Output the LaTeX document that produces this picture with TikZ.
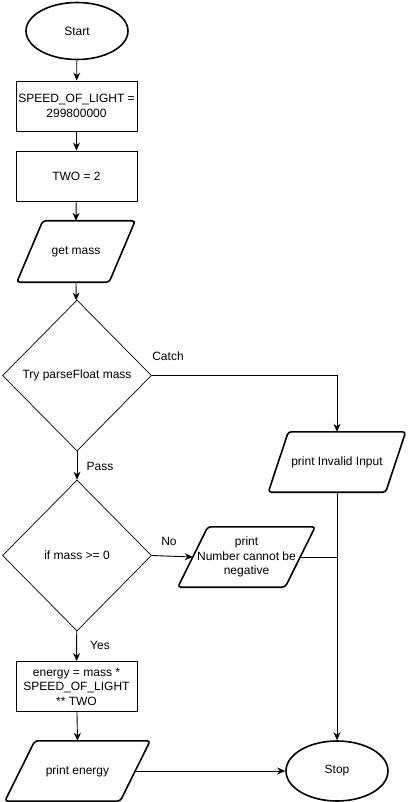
\documentclass[tikz,border=0pt]{standalone}
\usepackage{fontspec}
\setmainfont{Liberation Sans}
\usetikzlibrary{shapes.geometric,arrows.meta}
\begin{document}
\begin{tikzpicture}[x=1pt,y=-1pt,
  every node/.style={font=\fontsize{12}{14.5}\selectfont},
  term/.style={ellipse, draw, line width=1.6pt, minimum width=102, minimum height=57, inner sep=0},
  proc/.style={rectangle, draw, line width=0.9pt, minimum width=121, minimum height=50, align=center, inner sep=1},
  dec/.style={diamond, draw, line width=0.7pt, minimum width=149, minimum height=151, inner sep=0},
  iot/.style={rectangle, align=center, inner sep=0, minimum height=60},
  iop/.style={draw, line width=1.6pt, rounded corners=3pt},
  conn/.style={line width=0.9pt, -{Stealth[length=8,width=7]}},
  line/.style={line width=0.9pt},
  lbl/.style={inner sep=0}
]
\useasboundingbox (0,0) rectangle (407,802);
\node[term] (start) at (77,31) {Start};
\node[proc] (sol) at (76.5,106) {SPEED\_OF\_LIGHT =\\299800000};
\node[proc] (two) at (76.5,176) {TWO = 2};
\node[iot, minimum width=118, minimum height=61] (getm) at (76,251.5) {get mass};
\draw[iop] ([xshift=26pt]getm.north west) -- (getm.north east) -- ([xshift=-26pt]getm.south east) -- (getm.south west) -- cycle;
\node[dec] (try) at (77,375.5) {Try parseFloat mass};
\node[iot, minimum width=137] (inv) at (337,462) {print Invalid Input};
\draw[iop] ([xshift=20pt]inv.north west) -- (inv.north east) -- ([xshift=-20pt]inv.south east) -- (inv.south west) -- cycle;
\node[dec] (ifm) at (77,555.5) {if mass >= 0};
\node[iot, minimum width=137] (neg) at (246.5,557) {print\\Number cannot be\\negative};
\draw[iop] ([xshift=30pt]neg.north west) -- (neg.north east) -- ([xshift=-30pt]neg.south east) -- (neg.south west) -- cycle;
\node[proc] (en) at (76.5,686.5) {energy = mass *\\SPEED\_OF\_LIGHT\\** TWO};
\node[iot, minimum width=145] (pen) at (77.5,771) {print energy};
\draw[iop] ([xshift=30pt]pen.north west) -- (pen.north east) -- ([xshift=-30pt]pen.south east) -- (pen.south west) -- cycle;
\node[term, minimum height=60] (stop) at (337,771) {Stop};

\node[lbl] (lcatch) at (168,356) {Catch};
\node[lbl] (lpass) at (100,466) {Pass};
\node[lbl] (lno) at (169,541) {No};
\node[lbl] (lyes) at (100,645) {Yes};

\draw[conn] (start) -- (sol);
\draw[conn] (sol) -- (two);
\draw[conn] (two) -- (getm.north);
\draw[conn] (getm.south) -- (try);
\draw[conn] (try) -- (ifm);
\draw[conn] (try.east) -| (inv.north);
\draw[conn] (ifm.east) -- ([xshift=15pt]neg.west);
\draw[conn] (ifm) -- (en);
\draw[conn] (en) -- (pen.north);
\draw[conn] ([xshift=-15pt]pen.east) -- (stop.west);
\draw[conn] (inv.south) -- (stop.north);
\draw[line] ([xshift=-15pt]neg.east) -- (neg.east -| stop.north);
\end{tikzpicture}
\end{document}
